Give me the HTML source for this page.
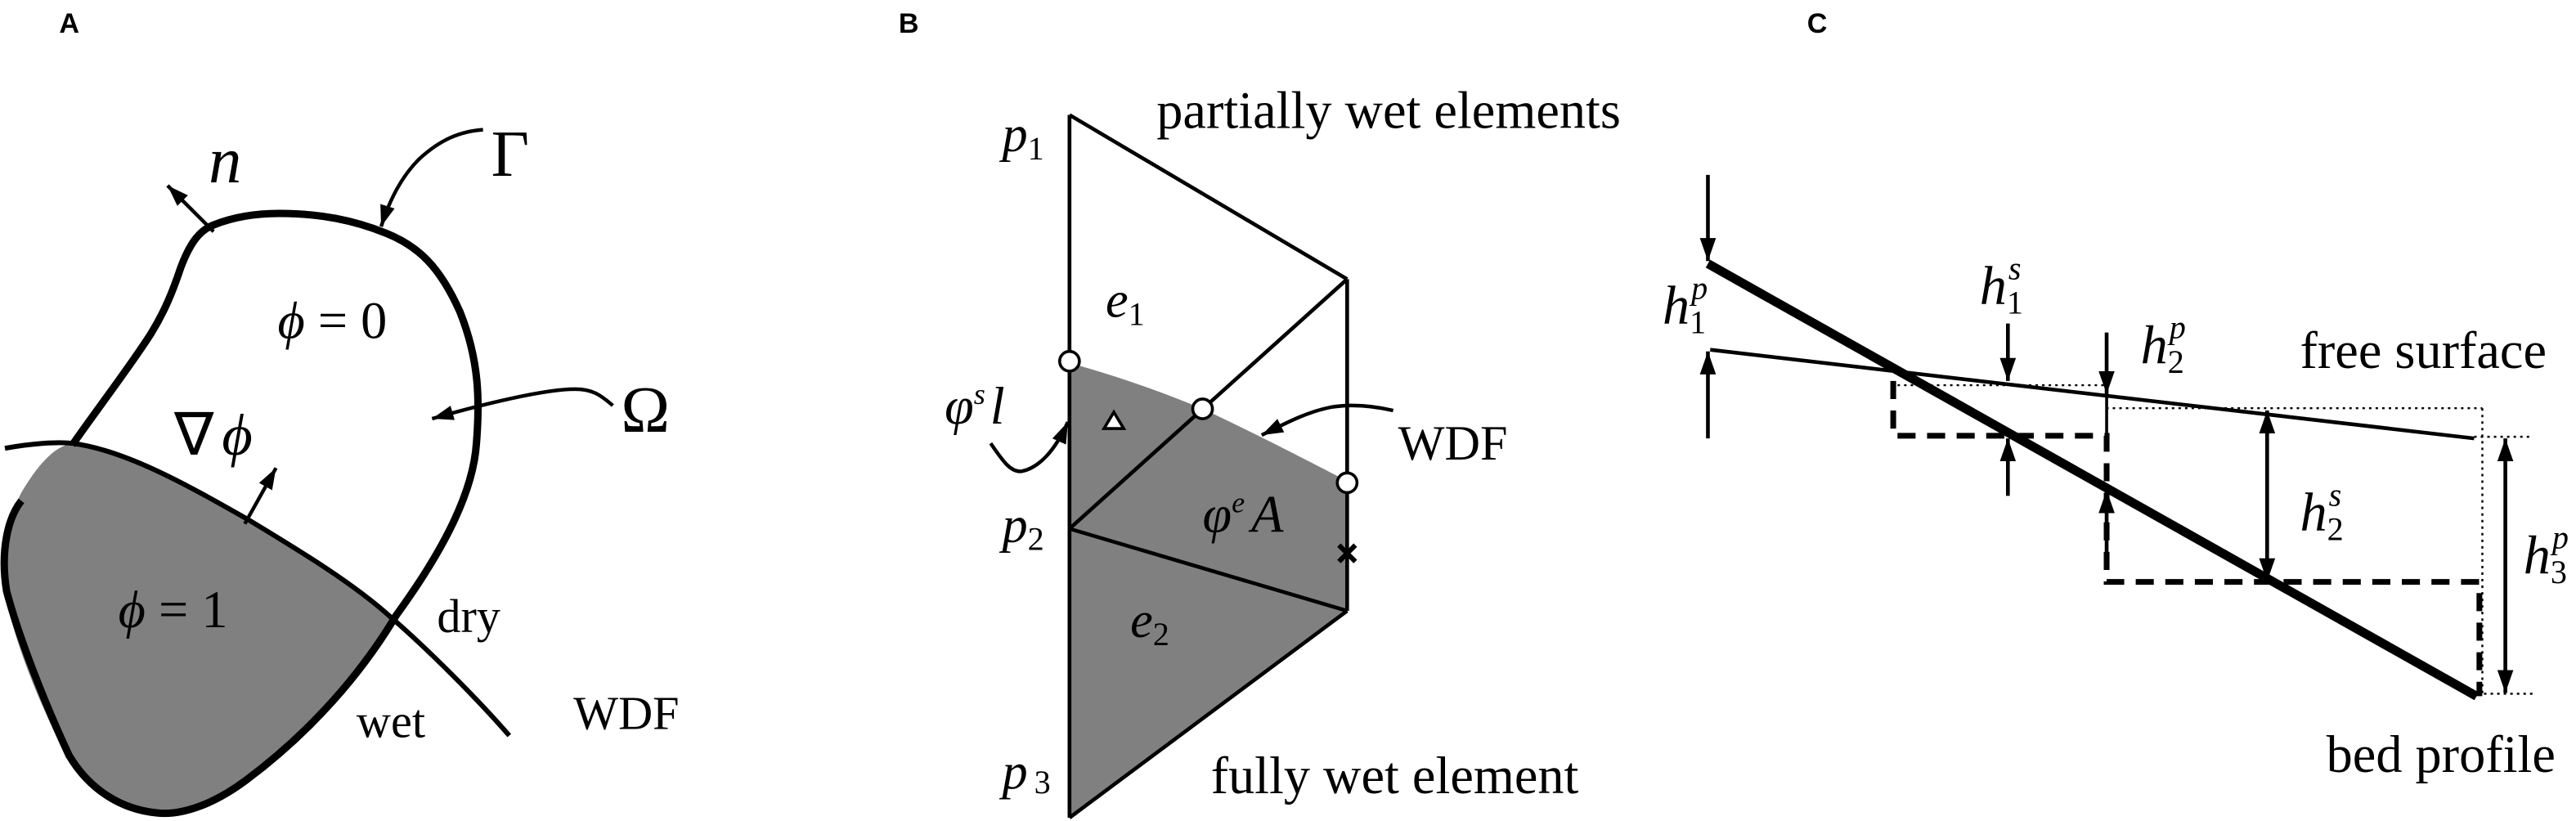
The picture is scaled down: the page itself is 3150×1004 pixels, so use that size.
<!DOCTYPE html>
<html><head><meta charset="utf-8"><style>
html,body{margin:0;padding:0;background:#fff;width:3150px;height:1004px;overflow:hidden}
svg{display:block}
text{font-family:"Liberation Serif",serif;fill:#000}
.lbl{font-family:"Liberation Sans",sans-serif;font-weight:bold;font-size:17px}
.it{font-style:italic}
</style></head><body>
<svg width="3150" height="1004" viewBox="0 0 1568 500" preserveAspectRatio="none" xmlns="http://www.w3.org/2000/svg">
<defs>
<marker id="ah" viewBox="0 0 10 10" refX="10" refY="5" markerWidth="14" markerHeight="14" markerUnits="userSpaceOnUse" orient="auto-start-reverse"><path d="M0,1.5 L10,5 L0,8.5z" fill="#000"/></marker>
<marker id="as" viewBox="0 0 10 10" refX="10" refY="5" markerWidth="13" markerHeight="13" markerUnits="userSpaceOnUse" orient="auto-start-reverse"><path d="M0,1.5 L10,5 L0,8.5z" fill="#000"/></marker>
</defs>

<!-- Panel A -->
<text class="lbl" x="36" y="20">A</text>
<path d="M44,270 C75,273 100,286 152,317 C180,334 215,355 238,376 L241,375 C225,400 200,432 170,458 C150,475 120,495 95,495 C75,495 55,485 40,460 C25,430 10,395 3,362 C0,335 5,315 13,300 C22,285 32,272 44,270 Z" fill="#808080"/>
<path d="M44,271 C60,248 80,222 92,203 C100,190 105,178 110,163 C116,147 122,140 130,137 C145,131 160,130 170,130 C195,130 215,134 235,142 C255,150 268,163 280,190 C292,220 292,245 290,270 C288,300 270,335 241,375 C220,410 190,445 150,475 C130,490 110,497 95,495 C75,493 55,482 42,460 C28,430 12,390 4,360 C0,335 5,315 13,305" fill="none" stroke="#000" stroke-width="4.5"/>
<path d="M3,273 C20,270 35,269 44,270 C75,274 110,293 152,317 C180,334 215,355 238,376 C260,395 290,425 310,448" fill="none" stroke="#000" stroke-width="3"/>
<line x1="130" y1="141" x2="102" y2="113" stroke="#000" stroke-width="2.2" marker-end="url(#as)"/>
<text class="it" x="127" y="111" font-size="40">n</text>
<path d="M294,79 C280,80 268,85 255,97 C244,108 237,122 232,138" fill="none" stroke="#000" stroke-width="2.2" marker-end="url(#as)"/>
<text x="299" y="107" font-size="40">Γ</text>
<path d="M373,247 C365,240 360,237 350,237 C335,237 305,243 263,255" fill="none" stroke="#000" stroke-width="2.2" marker-end="url(#as)"/>
<text x="378" y="263" font-size="40">Ω</text>
<text class="it" x="169" y="206" font-size="32">ϕ <tspan font-style="normal">= 0</tspan></text>
<text x="106" y="277" font-size="36">∇<tspan class="it" dx="5">ϕ</tspan></text>
<line x1="149" y1="319" x2="168" y2="285" stroke="#000" stroke-width="2.2" marker-end="url(#as)"/>
<text class="it" x="72" y="382" font-size="32">ϕ <tspan font-style="normal">= 1</tspan></text>
<text x="266" y="385" font-size="29">dry</text>
<text x="217" y="449" font-size="29">wet</text>
<text x="349" y="444" font-size="29">WDF</text>

<!-- Panel B -->
<text class="lbl" x="547" y="20">B</text>
<path d="M651,221 C690,232 715,242 732,249 C760,262 795,280 820,293 L820,372 L651,498 Z" fill="#808080"/>
<g fill="none" stroke="#000" stroke-width="2.3">
<line x1="651" y1="70" x2="651" y2="498"/>
<line x1="820" y1="170" x2="820" y2="372"/>
<line x1="651" y1="70" x2="820" y2="170"/>
<line x1="651" y1="322" x2="820" y2="170"/>
<line x1="651" y1="322" x2="820" y2="372"/>
<line x1="651" y1="498" x2="820" y2="372"/>
</g>
<g fill="#fff" stroke="#000" stroke-width="1.8">
<circle cx="651" cy="220" r="6"/>
<circle cx="732" cy="249" r="6"/>
<circle cx="820" cy="294" r="6"/>
<path d="M678,251 L684,261 L672,261 Z"/>
</g>
<path d="M815,332 L825,342 M825,332 L815,342" stroke="#000" stroke-width="3"/>
<path d="M603,270 C610,280 615,288 622,287 C632,285 642,275 650,257" fill="none" stroke="#000" stroke-width="2.2" marker-end="url(#as)"/>
<path d="M848,250 C835,247 822,246 810,248 C795,251 782,258 768,265" fill="none" stroke="#000" stroke-width="2.2" marker-end="url(#as)"/>
<text class="it" x="610" y="92" font-size="31">p<tspan font-style="normal" font-size="20" dy="5">1</tspan></text>
<text class="it" x="610" y="330" font-size="31">p<tspan font-style="normal" font-size="20" dy="5">2</tspan></text>
<text class="it" x="610" y="480" font-size="31">p<tspan font-style="normal" font-size="20" dx="4" dy="3">3</tspan></text>
<text class="it" x="673" y="193" font-size="31">e<tspan font-style="normal" font-size="20" dy="5">1</tspan></text>
<text class="it" x="688" y="388" font-size="31">e<tspan font-style="normal" font-size="20" dy="5">2</tspan></text>
<text class="it" x="575" y="258" font-size="32">φ<tspan font-size="18" dy="-12">s</tspan><tspan dy="12" dx="3">l</tspan></text>
<text class="it" x="732" y="324" font-size="32">φ<tspan font-size="18" dy="-12">e</tspan><tspan dy="12" dx="4">A</tspan></text>
<text x="851" y="280" font-size="30">WDF</text>
<text x="704" y="78" font-size="32">partially wet elements</text>
<text x="737" y="483" font-size="32">fully wet element</text>

<!-- Panel C -->
<text class="lbl" x="1100" y="20">C</text>
<g fill="none" stroke="#000" stroke-width="1.2" stroke-dasharray="1.5,2.5">
<line x1="1151" y1="234.6" x2="1282" y2="234.6"/>
<line x1="1282" y1="248.6" x2="1511" y2="248.6"/>
<line x1="1511" y1="248.6" x2="1511" y2="422.5"/>
<line x1="1506" y1="266" x2="1542" y2="266"/>
<line x1="1512" y1="422.5" x2="1544" y2="422.5"/>
</g>
<path d="M1152.4,232 L1152.4,265.4 L1282.3,265.4 L1282.3,354.4 L1509.2,354.4 L1509.2,424" fill="none" stroke="#000" stroke-width="3.5" stroke-dasharray="11,7"/>
<line x1="1282.3" y1="241" x2="1282.3" y2="265" stroke="#000" stroke-width="1.8"/>
<line x1="1039.6" y1="160.6" x2="1507.5" y2="424" stroke="#000" stroke-width="5.5"/>
<line x1="1041" y1="213" x2="1506" y2="267" stroke="#000" stroke-width="2.3"/>
<g stroke="#000" stroke-width="2.3" fill="none">
<line x1="1039.6" y1="106.5" x2="1039.6" y2="159" marker-end="url(#ah)"/>
<line x1="1039.6" y1="267" x2="1039.6" y2="214" marker-end="url(#ah)"/>
<line x1="1222.2" y1="197" x2="1222.2" y2="232" marker-end="url(#ah)"/>
<line x1="1222.2" y1="302" x2="1222.2" y2="267" marker-end="url(#ah)"/>
<line x1="1282.3" y1="202.5" x2="1282.3" y2="240" marker-end="url(#ah)"/>
<line x1="1282.3" y1="345.7" x2="1282.3" y2="298.5" marker-end="url(#ah)"/>
<line x1="1380" y1="250" x2="1380" y2="354" marker-start="url(#ah)" marker-end="url(#ah)"/>
<line x1="1525" y1="267" x2="1525" y2="422" marker-start="url(#ah)" marker-end="url(#ah)"/>
</g>
<text class="it" x="1012" y="197" font-size="33">h<tspan font-style="normal" font-size="20" dy="6">1</tspan><tspan font-size="20" dx="-9" dy="-21">p</tspan></text>
<text class="it" x="1205" y="185" font-size="33">h<tspan font-style="normal" font-size="20" dy="6">1</tspan><tspan font-size="20" dx="-9" dy="-21">s</tspan></text>
<text class="it" x="1303" y="221" font-size="33">h<tspan font-style="normal" font-size="20" dy="6">2</tspan><tspan font-size="20" dx="-9" dy="-21">p</tspan></text>
<text class="it" x="1400" y="323" font-size="33">h<tspan font-style="normal" font-size="20" dy="6">2</tspan><tspan font-size="20" dx="-9" dy="-21">s</tspan></text>
<text class="it" x="1536" y="349" font-size="33">h<tspan font-style="normal" font-size="20" dy="6">3</tspan><tspan font-size="20" dx="-9" dy="-21">p</tspan></text>
<text x="1400" y="224" font-size="32">free surface</text>
<text x="1416" y="470" font-size="32">bed profile</text>
</svg>
</body></html>
